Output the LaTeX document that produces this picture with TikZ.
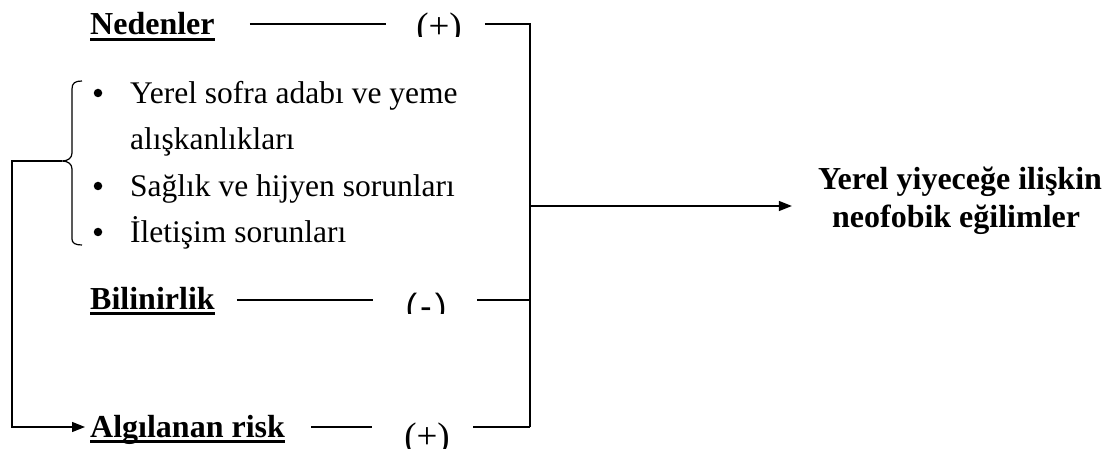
\documentclass[tikz,border=0pt]{standalone}
\usepackage{fontspec}
\setmainfont{Liberation Serif}
\newfontfamily\arialf{Liberation Sans}
\usetikzlibrary{positioning,arrows.meta}
\newcommand{\ulhead}[1]{\setbox0\hbox{#1}\copy0\kern-\wd0\rule[-6pt]{\wd0}{2.6pt}}

\begin{document}
\begin{tikzpicture}[x=1pt,y=-1pt,
    head/.style={anchor=base west,inner sep=0pt,font=\fontsize{32}{38}\selectfont\bfseries},
    itm/.style={anchor=base west,inner sep=0pt,font=\fontsize{31.5}{38}\selectfont},
    sgn/.style={anchor=base,inner sep=0pt,font=\fontsize{37}{38}\selectfont},
    dot/.style={circle,fill,inner sep=0pt,minimum size=8.5pt},
    conn/.style={line width=1.2pt},
    tip/.style={-{Triangle[length=13pt,width=10pt]}}]
    \useasboundingbox (0,0) rectangle (1119,449);
    \node[head] (ned) at (90,35) {\ulhead{Nedenler}};
    \node[head] (bil) at (90,309) {\ulhead{Bilinirlik}};
    \node[head] (alg) at (90,437) {\ulhead{Algılanan risk}};
    \begin{scope}
      \clip (380,0) rectangle (480,37);
      \node[sgn] (pl1) at (439,39) {(+)};
    \end{scope}
    \begin{scope}
      \clip (380,280) rectangle (480,313);
      \node[sgn,font=\fontsize{35}{38}\selectfont\arialf] (mi) at (426,318) {(\kern3pt-\kern3pt)};
    \end{scope}
    \begin{scope}
      \clip (380,400) rectangle (480,449);
      \node[sgn] (pl3) at (427,448) {(+)};
    \end{scope}
    \node[itm] (i1) at (130,104) {Yerel sofra adabı ve yeme};
    \node[itm] (i1b) at (130,150) {alışkanlıkları};
    \node[itm] (i2) at (130,197) {Sağlık ve hijyen sorunları};
    \node[itm] (i3) at (130,243) {İletişim sorunları};
    \foreach \n/\yy in {1/104,2/197,3/243}
      \node[dot] (b\n) at (98,\yy-11) {};
    \node[head,anchor=center,align=left,font=\fontsize{32}{38}\selectfont\bfseries] (res) at (960,201)
      {Yerel yiyeceğe ilişkin\\\hspace*{14pt}neofobik eğilimler};
    \coordinate (r1) at (530,24);
    \coordinate (r2) at (530,300);
    \coordinate (r3) at (530,427);
    \coordinate (rm) at (530,206);
    \coordinate (bc) at (62,161);
    \coordinate (lc) at (12,161);
    \draw[conn] (82,81) .. controls (75,81) and (72,83) .. (72,89) -- (72,153)
      .. controls (72,158) and (68,161) .. (bc) .. controls (68,161) and (72,164) .. (72,169)
      -- (72,239) .. controls (72,243) and (75,245) .. (82,245);
    \draw[conn,shorten <=35pt,shorten >=30pt] (ned.east |- r1) -- (pl1.west |- r1);
    \draw[conn,shorten <=23pt] (pl1.east |- r1) -- (r1) -- (r3);
    \draw[conn,shorten <=22pt,shorten >=32pt] (bil.east |- r2) -- (mi.west |- r2);
    \draw[conn,shorten >=30pt] (r2) -- (mi.east |- r2);
    \draw[conn,shorten <=26pt,shorten >=32pt] (alg.east |- r3) -- (pl3.west |- r3);
    \draw[conn,shorten >=23pt] (r3) -- (pl3.east |- r3);
    \draw[conn,tip,shorten >=26pt] (rm) -- (res.west |- rm);
    \draw[conn,tip,shorten >=5pt] (bc) -- (lc) |- (alg.west |- r3);
\end{tikzpicture}
\end{document}
